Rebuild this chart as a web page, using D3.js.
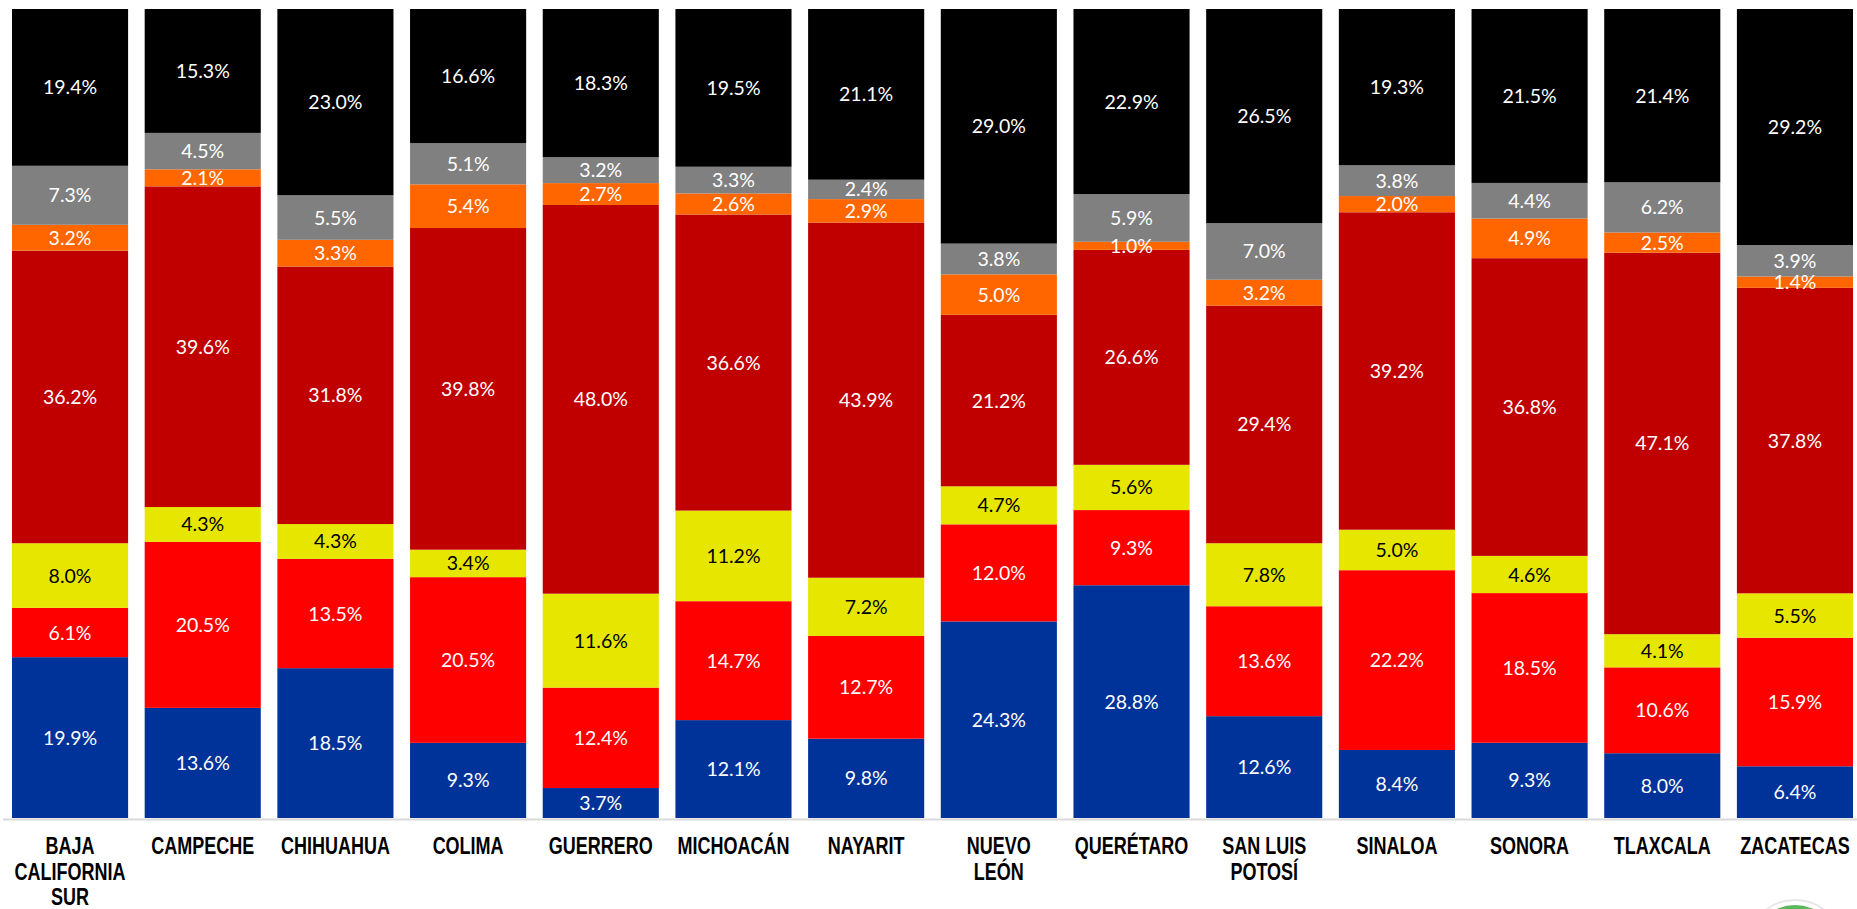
<!DOCTYPE html>
<html>
<head>
<meta charset="utf-8">
<script src="https://cdn.jsdelivr.net/npm/d3@7"></script>
<style>
  html, body { margin: 0; padding: 0; background: #fff; overflow: hidden; }
</style>
</head>
<body>
<svg id="chart" width="1857" height="909"></svg>
<script>
var states = ['BAJA CALIFORNIA SUR', 'CAMPECHE', 'CHIHUAHUA', 'COLIMA', 'GUERRERO', 'MICHOACÁN', 'NAYARIT',
              'NUEVO LEÓN', 'QUERÉTARO', 'SAN LUIS POTOSÍ', 'SINALOA', 'SONORA', 'TLAXCALA', 'ZACATECAS'];

// label lines under each bar
var stateLines = [['BAJA', 'CALIFORNIA', 'SUR'], ['CAMPECHE'], ['CHIHUAHUA'], ['COLIMA'], ['GUERRERO'], ['MICHOACÁN'],
                  ['NAYARIT'], ['NUEVO', 'LEÓN'], ['QUERÉTARO'], ['SAN LUIS', 'POTOSÍ'], ['SINALOA'], ['SONORA'],
                  ['TLAXCALA'], ['ZACATECAS']];

// series, bottom to top
var seriesKeys = ['blue', 'red', 'yellow', 'darkred', 'orange', 'gray', 'black'];
var seriesColors = ['#003399', '#FF0000', '#E6E600', '#C00000', '#FF6600', '#808080', '#000000'];
var seriesTextColors = ['#fff', '#fff', '#000', '#fff', '#fff', '#fff', '#fff'];

var blueValues    = [19.9, 13.6, 18.5,  9.3,  3.7, 12.1,  9.8, 24.3, 28.8, 12.6,  8.4,  9.3,  8.0,  6.4];
var redValues     = [ 6.1, 20.5, 13.5, 20.5, 12.4, 14.7, 12.7, 12.0,  9.3, 13.6, 22.2, 18.5, 10.6, 15.9];
var yellowValues  = [ 8.0,  4.3,  4.3,  3.4, 11.6, 11.2,  7.2,  4.7,  5.6,  7.8,  5.0,  4.6,  4.1,  5.5];
var darkredValues = [36.2, 39.6, 31.8, 39.8, 48.0, 36.6, 43.9, 21.2, 26.6, 29.4, 39.2, 36.8, 47.1, 37.8];
var orangeValues  = [ 3.2,  2.1,  3.3,  5.4,  2.7,  2.6,  2.9,  5.0,  1.0,  3.2,  2.0,  4.9,  2.5,  1.4];
var grayValues    = [ 7.3,  4.5,  5.5,  5.1,  3.2,  3.3,  2.4,  3.8,  5.9,  7.0,  3.8,  4.4,  6.2,  3.9];
var blackValues   = [19.4, 15.3, 23.0, 16.6, 18.3, 19.5, 21.1, 29.0, 22.9, 26.5, 19.3, 21.5, 21.4, 29.2];

var seriesValues = [blueValues, redValues, yellowValues, darkredValues, orangeValues, grayValues, blackValues];

var rows = states.map(function(s, i) {
    var row = { state: s, index: i };
    seriesKeys.forEach(function(k, j) { row[k] = seriesValues[j][i]; });
    return row;
});

var svg = d3.select('#chart');

var x = d3.scaleBand()
    .domain(states)
    .range([3.7, 1861.3])
    .paddingInner(0.125)
    .paddingOuter(0.0625);

var y = d3.scaleLinear()
    .domain([0, 1])
    .range([818, 9]);

var stack = d3.stack()
    .keys(seriesKeys)
    .offset(d3.stackOffsetExpand);

var layers = stack(rows);

var groups = svg.selectAll('g.layer')
    .data(layers)
    .enter()
    .append('g')
        .attr('class', 'layer')
        .attr('fill', function(d, i) { return seriesColors[i]; });

groups.selectAll('rect')
    .data(function(d) { return d; })
    .enter()
    .append('rect')
        .attr('x', function(d) { return x(d.data.state); })
        .attr('y', function(d) { return y(d[1]); })
        .attr('width', x.bandwidth())
        .attr('height', function(d) { return y(d[0]) - y(d[1]); });

// value labels, centred on each segment
layers.forEach(function(layer, i) {
    svg.append('g')
        .selectAll('text')
        .data(layer)
        .enter()
        .append('text')
            .attr('x', function(d) { return x(d.data.state) + x.bandwidth() / 2; })
            .attr('y', function(d) { return (y(d[0]) + y(d[1])) / 2; })
            .attr('dy', '0.36em')
            .attr('text-anchor', 'middle')
            .attr('font-family', 'Lato, "Open Sans", sans-serif')
            .attr('font-size', '19.5px')
            .attr('fill', seriesTextColors[i])
            .text(function(d) { return d.data[layer.key].toFixed(1) + '%'; });
});

// baseline
svg.append('line')
    .attr('x1', 3)
    .attr('x2', 1857)
    .attr('y1', y(0) + 1.5)
    .attr('y2', y(0) + 1.5)
    .attr('stroke', '#D9D9D9')
    .attr('stroke-width', 2);

// category labels (stretched vertically like the original)
var labels = svg.append('g')
    .selectAll('g')
    .data(rows)
    .enter()
    .append('g')
        .attr('transform', function(d) { return 'translate(' + (x(d.state) + x.bandwidth() / 2) + ',854)'; });

labels.each(function(d) {
    var g = d3.select(this);
    stateLines[d.index].forEach(function(line, k) {
        g.append('text')
            .attr('transform', 'translate(0,' + (k * 25.5) + ') scale(1,1.3)')
            .attr('text-anchor', 'middle')
            .attr('font-family', '"Liberation Sans", Arial, sans-serif')
            .attr('font-weight', 'bold')
            .attr('font-size', '18px')
            .attr('fill', '#000')
            .text(line);
    });
});

// corner logo, mostly cut off
svg.append('circle')
    .attr('cx', 1795)
    .attr('cy', 948)
    .attr('r', 48)
    .attr('fill', '#fff')
    .attr('stroke', '#E6E6E6')
    .attr('stroke-width', 2);

svg.append('circle')
    .attr('cx', 1795)
    .attr('cy', 948)
    .attr('r', 43)
    .attr('fill', '#5CB85C');
</script>
</body>
</html>
